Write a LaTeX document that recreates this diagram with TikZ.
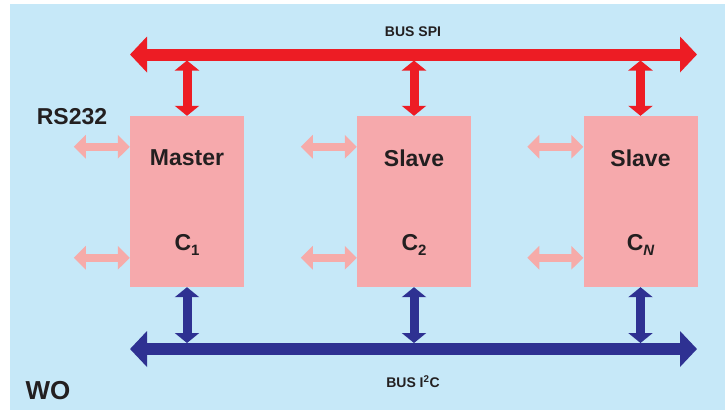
\documentclass[tikz,border=0pt]{standalone}
\usepackage{fontspec}
\setmainfont{Liberation Sans}
\usepackage{tikz}
\usetikzlibrary{arrows.meta}
\usetikzlibrary{calc}
\definecolor{bgblue}{HTML}{C6E8F8}
\definecolor{spired}{HTML}{ED1C24}
\definecolor{i2cblue}{HTML}{2E3192}
\definecolor{chippink}{HTML}{F6A9AC}
\definecolor{iopink}{HTML}{F6ABA9}
\definecolor{inkdark}{HTML}{231F20}
\newcommand{\chipidx}[1]{\raisebox{-5pt}{\fontsize{15}{15}\selectfont #1}}

\begin{document}
\begin{tikzpicture}[x=1pt,y=-1pt,
    chip/.style={rectangle, fill=chippink, minimum width=114pt, minimum height=171pt, inner sep=0pt},
    bigtext/.style={font=\fontsize{23}{23}\selectfont\bfseries, text=inkdark, inner sep=0pt},
    bustext/.style={font=\fontsize{14}{14}\selectfont\bfseries, text=inkdark, inner sep=0pt},
    bus/.style={line width=12pt, {Triangle[length=17pt,width=35pt]}-{Triangle[length=17pt,width=35pt]}},
    link/.style={line width=9pt, {Triangle[length=10pt,width=24pt]}-{Triangle[length=10pt,width=24pt]}},
    iolink/.style={iopink, line width=8pt, {Triangle[length=12pt,width=23pt]}-{Triangle[length=12pt,width=23pt]}}]
    \useasboundingbox (0,0) rectangle (725,410);
    \fill[bgblue] (10,4) rectangle (725,410);
    % the three controllers
    \node[chip] (master) at (187,201.5) {};
    \node[chip] (slave) at (414,201.5) {};
    \node[chip] (slaveN) at (640.5,201.5) {};
    \node[bigtext] (masterName) at (187,158) {Master};
    \node[bigtext] (slaveName) at (414,158) {Slave};
    \node[bigtext] (slaveNName) at (640.5,158) {Slave};
    \node[bigtext] (masterId) at (187,245) {C\chipidx{1}};
    \node[bigtext] (slaveId) at (414,245) {C\chipidx{2}};
    \node[bigtext] (slaveNId) at (640.5,245) {C\chipidx{\itshape N}};
    % buses
    \coordinate (spiL) at (130,54.5);
    \coordinate (spiR) at (697,54.5);
    \coordinate (i2cL) at (130,349);
    \coordinate (i2cR) at (697,349);
    \draw[bus, spired] (spiL) -- (spiR);
    \draw[bus, i2cblue] (i2cL) -- (i2cR);
    \node[bustext] (spiLabel) at (413,32) {BUS SPI};
    \node[bustext] (i2cLabel) at (413,382) {BUS I\textsuperscript{2}C};
    % links to the buses
    \draw[link, spired, shorten >=6pt] (master.north) -- (master.north |- spiL);
    \draw[link, spired, shorten >=6pt] (slave.north) -- (slave.north |- spiL);
    \draw[link, spired, shorten >=6pt] (slaveN.north) -- (slaveN.north |- spiL);
    \draw[link, i2cblue, shorten >=6pt] (master.south) -- (master.south |- i2cL);
    \draw[link, i2cblue, shorten >=6pt] (slave.south) -- (slave.south |- i2cL);
    \draw[link, i2cblue, shorten >=6pt] (slaveN.south) -- (slaveN.south |- i2cL);
    % side inputs and outputs
    \draw[iolink] ([yshift=-31pt]master.north west) -- ++(-56,0);
    \draw[iolink] ([yshift=-142pt]master.north west) -- ++(-56,0);
    \draw[iolink] ([yshift=-31pt]slave.north west) -- ++(-56,0);
    \draw[iolink] ([yshift=-142pt]slave.north west) -- ++(-56,0);
    \draw[iolink] ([yshift=-31pt]slaveN.north west) -- ++(-56,0);
    \draw[iolink] ([yshift=-142pt]slaveN.north west) -- ++(-56,0);
    \node[font=\fontsize{23}{23}\selectfont\bfseries, text=inkdark, inner sep=0pt] (rsLabel) at (72,117) {RS232};
    \node[font=\fontsize{26}{26}\selectfont\bfseries, text=inkdark, inner sep=0pt] (woLabel) at (48,391) {WO};
\end{tikzpicture}
\end{document}
